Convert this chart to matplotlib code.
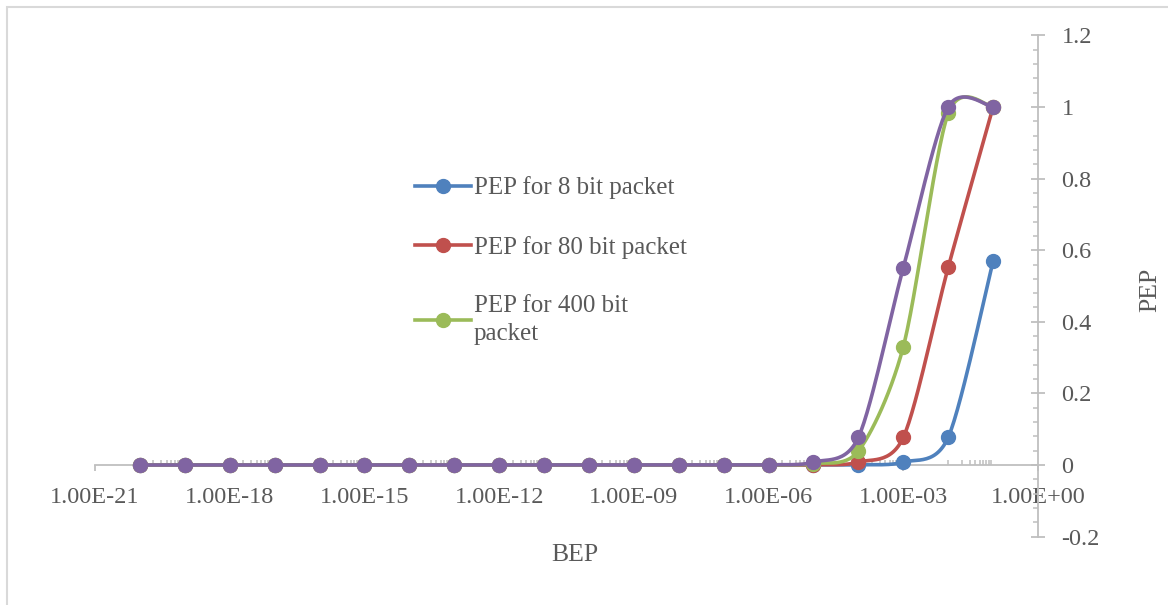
import numpy as np
import matplotlib
matplotlib.use('Agg')
import matplotlib.pyplot as plt
import matplotlib.ticker as plticker
from matplotlib.lines import Line2D
from matplotlib.patches import Rectangle

plt.rcParams['font.family'] = ['Liberation Serif', 'DejaVu Serif']

# bit error probability (x) and packet error probability for each packet size
bep = [1e-20, 1e-19, 1e-18, 1e-17, 1e-16, 1e-15, 1e-14, 1e-13, 1e-12, 1e-11,
       1e-10, 1e-9, 1e-8, 1e-7, 1e-6, 1e-5, 1e-4, 1e-3, 1e-2, 1e-1]
pep_8 = [0, 0, 0, 0, 0, 0, 0, 0, 0, 0,
         0, 0, 0, 0, 0, 0.0001, 0.0008, 0.008, 0.077, 0.57]
pep_80 = [0, 0, 0, 0, 0, 0, 0, 0, 0, 0,
          0, 0, 0, 0, 0.0001, 0.0008, 0.008, 0.077, 0.552, 1.0]
pep_400 = [0, 0, 0, 0, 0, 0, 0, 0, 0, 0,
           0, 0, 0, 0, 0.0004, 0.004, 0.039, 0.33, 0.982, 1.0]
pep_800 = [0, 0, 0, 0, 0, 0, 0, 0, 0, 0,
           0, 0, 0, 0, 0.0008, 0.008, 0.077, 0.551, 1.0, 1.0]

labels = ['PEP for 8 bit packet', 'PEP for 80 bit packet',
          'PEP for 400 bit\npacket', None]
colors = ['#4F81BD', '#C0504D', '#9BBB59', '#8064A2']
grey = '#BFBFBF'
txt = '#595959'


def smooth(xs, ys, n=30, tension=0.14):
    ''' Excel style smoothed line: Catmull-Rom like segments drawn as cubic
        Bezier, computed in log10(x) so the curve follows the log axis '''
    lx = np.log10(xs)
    ys = np.asarray(ys, float)
    pts = np.column_stack([lx, ys])
    out = []
    t = np.linspace(0, 1, n)[:, None]
    for i in range(len(pts) - 1):
        p0 = pts[i - 1] if i > 0 else pts[i]
        p1 = pts[i]
        p2 = pts[i + 1]
        p3 = pts[i + 2] if i + 2 < len(pts) else pts[i + 1]
        c1 = p1 + (p2 - p0) * tension
        c2 = p2 - (p3 - p1) * tension
        seg = ((1 - t) ** 3) * p1 + 3 * ((1 - t) ** 2) * t * c1 \
            + 3 * (1 - t) * t ** 2 * c2 + t ** 3 * p2
        out.append(seg)
    out = np.vstack(out)
    return 10 ** out[:, 0], out[:, 1]


fig = plt.figure(figsize=(11.68, 6.05), dpi=100)
W, H = 1168, 605
ax = fig.add_axes([95 / W, (H - 536.6) / H, (1038 - 95) / W, (536.6 - 35.4) / H])

series = [pep_8, pep_80, pep_400, pep_800]
for k, ys in enumerate(series):
    sx, sy = smooth(bep, ys)
    ax.plot(sx, sy, color=colors[k], lw=2.6, zorder=3 + k, solid_capstyle='round')
    ax.plot(bep, ys, 'o', color=colors[k], ms=10, zorder=3 + k)

ax.set_xscale('log')
ax.set_xlim(1e-21, 1e0)
ax.set_ylim(-0.2, 1.2)

# spines: x axis crosses at y = 0, value axis drawn on the right
ax.spines['top'].set_visible(False)
ax.spines['left'].set_visible(False)
ax.spines['bottom'].set_position(('data', 0))
for s in ['bottom', 'right']:
    ax.spines[s].set_color(grey)
    ax.spines[s].set_linewidth(1.3)

major_x = [10.0 ** e for e in range(-21, 1, 3)]
minor_x = [m * 10.0 ** e for e in range(-20, 0, 2) for m in range(1, 10)]
ax.xaxis.set_major_locator(plticker.FixedLocator(major_x))
ax.xaxis.set_minor_locator(plticker.FixedLocator(minor_x))
ax.xaxis.set_major_formatter(plticker.FuncFormatter(lambda v, p: '%.2E' % v))
ax.xaxis.set_minor_formatter(plticker.NullFormatter())
ax.tick_params(axis='x', which='major', direction='out', length=4, width=1.3,
               color=grey, labelsize=17.5, labelcolor=txt, pad=12)
ax.tick_params(axis='x', which='minor', direction='in', length=3.5, width=1.1,
               color=grey)

ax.yaxis.tick_right()
ax.set_yticks(np.arange(-0.2, 1.21, 0.2))
ax.yaxis.set_minor_locator(plticker.MultipleLocator(0.04))
ax.yaxis.set_major_formatter(plticker.FuncFormatter(lambda v, p: '%g' % round(v, 1)))
ax.tick_params(axis='y', which='major', direction='inout', length=10, width=1.3,
               color=grey, labelsize=17.5, labelcolor=txt, pad=12)
ax.tick_params(axis='y', which='minor', direction='in', length=3.8, width=1.1,
               color=grey)
for lab in ax.get_yticklabels():
    lab.set_horizontalalignment('left')

fig.text(575 / W, 1 - 555 / H, 'BEP', fontsize=18.5, color=txt, ha='center', va='center')
fig.text(1150 / W, 1 - 290 / H, 'PEP', fontsize=18.5, color=txt, ha='center',
         va='center', rotation=90)

handles = [Line2D([], [], color=colors[k], lw=2.6, marker='o', ms=10)
           for k in range(3)]
leg = fig.legend(handles, labels[:3], loc='upper left',
                 bbox_to_anchor=(402 / W, 1 - 164 / H), frameon=False,
                 fontsize=18, labelcolor=txt, handlelength=2.25,
                 handletextpad=0.12, labelspacing=1.45, borderpad=0)
for t in leg.get_texts():
    t.set_linespacing(1.35)

# light chart-area border (only top and left edges fall inside the image)
fig.patches.append(Rectangle((7 / W, -0.2), 1.2, (1 - 7 / H) + 0.2,
                             transform=fig.transFigure, fill=False,
                             edgecolor='#D9D9D9', lw=1.5, clip_on=False))

fig.savefig('out.png', dpi=100)
